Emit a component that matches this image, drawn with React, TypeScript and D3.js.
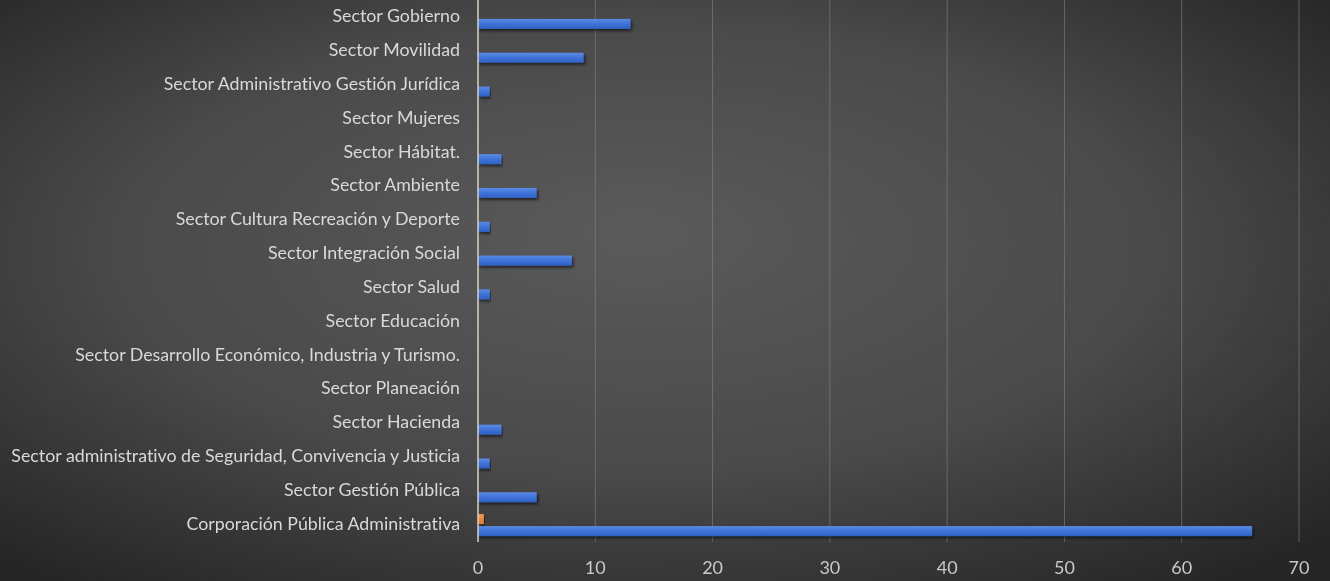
import React from "react";
import * as d3 from "d3";

const categories = [
  "Corporación Pública Administrativa",
  "Sector Gestión Pública",
  "Sector administrativo de Seguridad, Convivencia y Justicia",
  "Sector Hacienda",
  "Sector Planeación",
  "Sector Desarrollo Económico, Industria y Turismo.",
  "Sector Educación",
  "Sector Salud",
  "Sector Integración Social",
  "Sector Cultura Recreación y Deporte",
  "Sector Ambiente",
  "Sector Hábitat.",
  "Sector Mujeres",
  "Sector Administrativo Gestión Jurídica",
  "Sector Movilidad",
  "Sector Gobierno",
];
const seriesBlue = [66, 5, 1, 2, 0, 0, 0, 1, 8, 1, 5, 2, 0, 1, 9, 13];
const seriesOrange = [0.5, 0, 0, 0, 0, 0, 0, 0, 0, 0, 0, 0, 0, 0, 0, 0];
const xTicks = [0, 10, 20, 30, 40, 50, 60, 70];

const W = 1330;
const H = 581;
const plot = { left: 478, right: 1299, top: 1, bottom: 542 };

export default function App() {
  const x = d3.scaleLinear().domain([0, 70]).range([plot.left, plot.right]);
  const y = d3
    .scaleBand<string>()
    .domain(categories.slice().reverse())
    .range([plot.top, plot.bottom])
    .paddingInner(0)
    .paddingOuter(0);
  const step = y.step();
  const barH = 10;
  const font = "Lato, 'Open Sans', sans-serif";

  return (
    <div style={{ position: "fixed", left: 0, top: 0, width: W, height: H }}>
      <svg width={W} height={H} style={{ display: "block", fontVariantLigatures: "none" }}>
        <defs>
          <radialGradient id="bg" cx="48%" cy="45%" r="70%" fx="48%" fy="40%">
            <stop offset="0%" stopColor="#5a5a5a" />
            <stop offset="55%" stopColor="#4a4a4a" />
            <stop offset="100%" stopColor="#262626" />
          </radialGradient>
          <linearGradient id="blueG" x1="0" y1="0" x2="0" y2="1">
            <stop offset="0%" stopColor="#5b8be6" />
            <stop offset="50%" stopColor="#3f73d8" />
            <stop offset="100%" stopColor="#3060c4" />
          </linearGradient>
          <linearGradient id="orangeG" x1="0" y1="0" x2="0" y2="1">
            <stop offset="0%" stopColor="#f39a5a" />
            <stop offset="100%" stopColor="#e0782e" />
          </linearGradient>
          <filter id="shadow" x="-5%" y="-50%" width="110%" height="250%">
            <feDropShadow dx="1.5" dy="2" stdDeviation="1.5" floodColor="#000" floodOpacity="0.6" />
          </filter>
        </defs>
        <rect x={0} y={0} width={W} height={H} fill="url(#bg)" />
        {xTicks.slice(1).map((t) => (
          <line
            key={"g" + t}
            x1={x(t)}
            x2={x(t)}
            y1={plot.top - 1}
            y2={plot.bottom}
            stroke="#8a8a8a"
            strokeOpacity={0.55}
            strokeWidth={1}
          />
        ))}
        {categories.map((c, i) => {
          const cy = (y(c) as number) + step / 2;
          return (
            <g key={c}>
              {seriesOrange[i] > 0 && (
                <rect
                  x={x(0)}
                  y={cy - barH - 1}
                  width={x(seriesOrange[i]) - x(0)}
                  height={barH}
                  fill="url(#orangeG)"
                  filter="url(#shadow)"
                />
              )}
              {seriesBlue[i] > 0 && (
                <rect
                  x={x(0)}
                  y={cy + 1}
                  width={x(seriesBlue[i]) - x(0)}
                  height={barH}
                  fill="url(#blueG)"
                  filter="url(#shadow)"
                />
              )}
              <text
                x={460}
                y={cy}
                textAnchor="end"
                dominantBaseline="middle"
                fill="#d9d9d9"
                fontFamily={font}
                fontSize={17.8}
                style={{ fontVariantLigatures: "none" }}
              >
                {c}
              </text>
            </g>
          );
        })}
        <line x1={x(0)} x2={x(0)} y1={plot.top - 1} y2={plot.bottom} stroke="#d9d2c4" strokeWidth={1.5} />
        {xTicks.map((t) => (
          <text
            key={"t" + t}
            x={x(t)}
            y={569}
            textAnchor="middle"
            dominantBaseline="middle"
            fill="#c8c8c8"
            fontFamily={font}
            fontSize={18}
          >
            {t}
          </text>
        ))}
      </svg>
    </div>
  );
}
